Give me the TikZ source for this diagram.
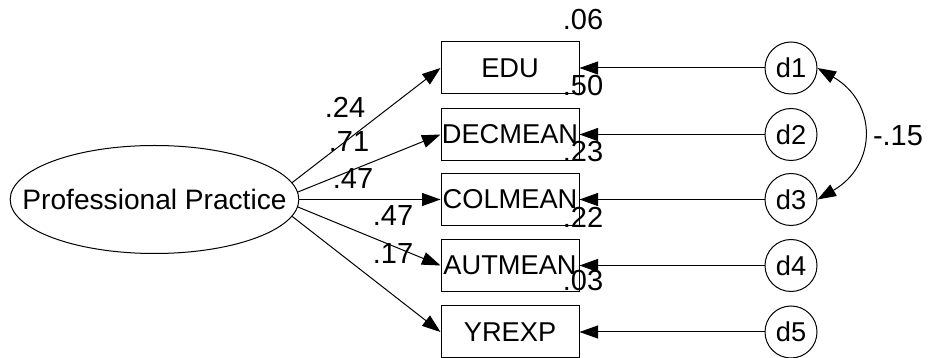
\documentclass[tikz,border=0pt]{standalone}
\usepackage{fontspec}
\setmainfont{Liberation Sans}
\usepackage{tikz}
\usetikzlibrary{arrows.meta, shapes.geometric}

\begin{document}
\begin{tikzpicture}[
    font=\fontsize{15.5}{18}\selectfont,
    line width=0.02cm,
    latent/.style={draw, ellipse, minimum width=5.7cm, minimum height=2.16cm,
                   inner xsep=-0.6cm, inner ysep=0pt, font=\fontsize{16}{19}\selectfont},
    obsbox/.style={draw, rectangle, minimum width=2.76cm, minimum height=1.04cm, inner sep=0pt},
    errcirc/.style={draw, circle, minimum size=1.04cm, inner sep=0pt},
    load/.style={-{Triangle[length=0.37cm, width=0.26cm]}},
    corr/.style={{Triangle[length=0.37cm, width=0.26cm]}-{Triangle[length=0.37cm, width=0.26cm]}},
    coef/.style={inner sep=0pt, font=\fontsize{16.5}{19}\selectfont}
  ]
  \useasboundingbox (0,0) rectangle (18.62,7.16);

  %% Latent factor
  \node[latent] (pp) at (3.09,3.17) {Professional Practice};

  %% Indicators
  \node[obsbox] (edu) at (10.2,5.80) {EDU};
  \node[obsbox] (dec) at (10.2,4.47) {DECMEAN};
  \node[obsbox] (col) at (10.2,3.17) {COLMEAN};
  \node[obsbox] (aut) at (10.2,1.85) {AUTMEAN};
  \node[obsbox] (yrx) at (10.2,0.52) {YREXP};

  %% Disturbances
  \node[errcirc] (d1) at (15.82,5.80) {d1};
  \node[errcirc] (d2) at (15.82,4.47) {d2};
  \node[errcirc] (d3) at (15.82,3.17) {d3};
  \node[errcirc] (d4) at (15.82,1.85) {d4};
  \node[errcirc] (d5) at (15.82,0.52) {d5};

  %% Loadings
  \draw[load] (pp.7) -- (edu.west);
  \draw[load] (pp.3) -- (dec.west);
  \draw[load] (pp.east) -- (col.west);
  \draw[load] (pp.-3) -- (aut.west);
  \draw[load] (pp.-7) -- (yrx.west);

  %% Errors
  \draw[load] (d1) -- (edu);
  \draw[load] (d2) -- (dec);
  \draw[load] (d3) -- (col);
  \draw[load] (d4) -- (aut);
  \draw[load] (d5) -- (yrx);

  %% Error covariance
  \draw[corr] (d1.east) to[bend left=60, looseness=1.35] (d3.east);
  \node[coef] (r13) at (17.96,4.44) {-.15};

  %% Standardised weights
  \node[coef] (w1) at (6.90,5.02) {.24};
  \node[coef] (w2) at (6.98,4.32) {.71};
  \node[coef] (w3) at (7.06,3.58) {.47};
  \node[coef] (w4) at (7.86,2.84) {.47};
  \node[coef] (w5) at (7.86,2.08) {.17};

  %% Squared multiple correlations
  \node[coef] (r1) at (11.66,6.76) {.06};
  \node[coef] (r2) at (11.66,5.44) {.50};
  \node[coef] (r3) at (11.66,4.12) {.23};
  \node[coef] (r4) at (11.66,2.82) {.22};
  \node[coef] (r5) at (11.66,1.54) {.03};
\end{tikzpicture}
\end{document}
